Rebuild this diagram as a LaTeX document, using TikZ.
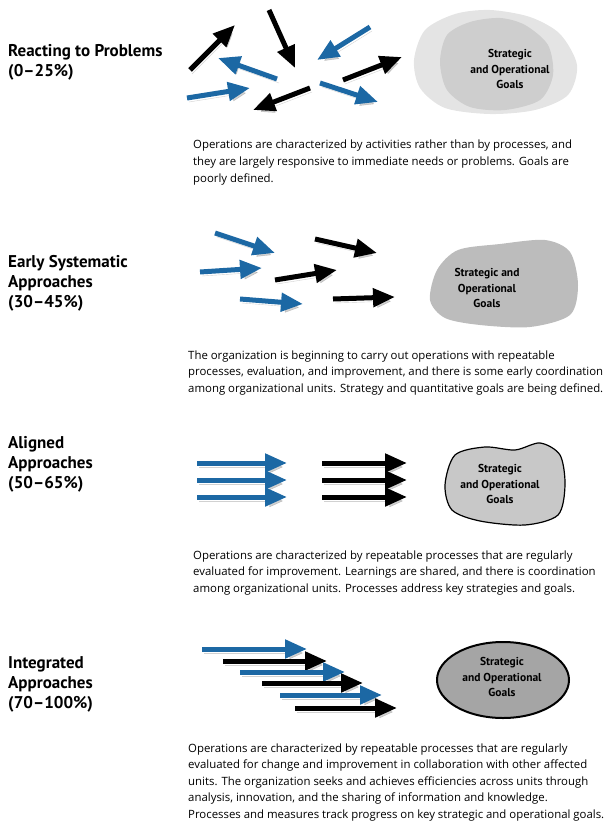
\documentclass[tikz,border=0pt]{standalone}
\usepackage{fontspec}
\setmainfont{PT Sans}
\newfontfamily\bodyfont{Open Sans}
\usetikzlibrary{arrows.meta}
\definecolor{flowblue}{RGB}{28,104,164}
\definecolor{cloudlight}{RGB}{228,228,228}
\definecolor{cloudmid}{RGB}{206,206,206}
\definecolor{blobgrey}{RGB}{188,188,188}
\definecolor{ringgrey}{RGB}{200,200,200}
\definecolor{ovalgrey}{RGB}{165,165,165}

\begin{document}
\begin{tikzpicture}[x=1pt, y=-1pt,
        heading/.style={anchor=base west, align=left, inner sep=0pt,
            font=\fontsize{17}{20}\selectfont\bfseries},
        body/.style={anchor=base west, align=left, inner sep=0pt,
            font=\bodyfont\fontsize{11.4}{16.5}\selectfont},
        goaltxt/.style={align=center, inner sep=0pt,
            font=\fontsize{11.5}{15.5}\selectfont\bfseries},
        flow/.style={line width=5pt, -{Triangle[length=22pt,width=18pt]},
            preaction={draw=black, opacity=0.18,
                transform canvas={shift={(2pt,-4pt)}}}},
    ]
    \useasboundingbox (0,0) rectangle (611,824);

    % reacting to problems
    \node[heading] (reacting) at (8,77) {Reacting to Problems\\(0--25\%)};
    \draw[flow] (190,70) -- (235,25);
    \draw[flow] (269,10) -- (295,68);
    \draw[flow, flowblue] (370,27) -- (317,60);
    \draw[flow, flowblue] (277,79) -- (218,58);
    \draw[flow] (343,80) -- (402,57);
    \draw[flow, flowblue] (187,98) -- (250,88);
    \draw[flow] (310,88) -- (253,110);
    \draw[flow, flowblue] (320,83) -- (378,102);
    \fill[cloudlight] plot[smooth cycle] coordinates {(414,60) (425,30) (455,14) (490,10)
        (530,17) (560,34) (577,65) (568,95) (535,110) (490,114) (445,108) (420,88)};
    \fill[cloudmid] plot[smooth cycle] coordinates {(440,62) (447,35) (470,22) (500,18)
        (525,25) (548,45) (553,75) (540,100) (505,110) (470,107) (447,90)};
    \node[goaltxt] (goalsA) at (510,69) {Strategic\\and Operational\\Goals};
    \node[body] (reactingtxt) at (193,182) {Operations are characterized by activities rather than by processes, and\\
        they are largely responsive to immediate needs or problems. Goals are\\
        poorly defined.};

    % early systematic approaches
    \node[heading] (early) at (8,307) {Early Systematic\\Approaches\\(30--45\%)};
    \draw[flow, flowblue] (215,233) -- (275,253);
    \draw[flow, flowblue] (200,272) -- (262,268);
    \draw[flow, flowblue] (240,299) -- (303,304);
    \draw[flow] (315,239) -- (377,253);
    \draw[flow] (275,280) -- (337,270);
    \draw[flow] (333,299) -- (395,297);
    \fill[blobgrey] plot[smooth cycle] coordinates {(430,300) (437,270) (458,250) (500,244)
        (545,240) (570,252) (578,285) (570,315) (530,327) (480,325) (445,318)};
    \node[goaltxt] (goalsB) at (487,288) {Strategic and\\Operational\\Goals};
    \node[body] (earlytxt) at (188,392) {The organization is beginning to carry out operations with repeatable\\
        processes, evaluation, and improvement, and there is some early coordination\\
        among organizational units. Strategy and quantitative goals are being defined.};

    % aligned approaches
    \node[heading] (aligned) at (8,488) {Aligned\\Approaches\\(50--65\%)};
    \foreach \y in {463,480,497} {
        \draw[flow, flowblue] (197,\y) -- (287,\y);
        \draw[flow] (322,\y) -- (407,\y);
    }
    \filldraw[fill=ringgrey, draw=black, line width=1.2pt] plot[smooth cycle] coordinates {(445,485)
        (455,455) (485,447) (515,450) (540,443) (560,455) (565,485) (558,515) (525,525)
        (480,521) (452,510)};
    \node[goaltxt] (goalsC) at (500,484) {Strategic\\and Operational\\Goals};
    \node[body] (alignedtxt) at (193,592) {Operations are characterized by repeatable processes that are regularly\\
        evaluated for improvement. Learnings are shared, and there is coordination\\
        among organizational units. Processes address key strategies and goals.};

    % integrated approaches
    \node[heading] (integrated) at (8,708) {Integrated\\Approaches\\(70--100\%)};
    \draw[flow, flowblue] (202,649) -- (307,649);
    \draw[flow] (223,661) -- (327,661);
    \draw[flow, flowblue] (240,672) -- (345,672);
    \draw[flow] (262,683) -- (363,683);
    \draw[flow, flowblue] (280,695) -- (382,695);
    \draw[flow] (295,708) -- (397,708);
    \filldraw[fill=ovalgrey, draw=black, line width=2pt] (503,680) ellipse (66 and 38);
    \node[goaltxt] (goalsD) at (502,677) {Strategic\\and Operational\\Goals};
    \node[body] (integratedtxt) at (188,818) {Operations are characterized by repeatable processes that are regularly\\
        evaluated for change and improvement in collaboration with other affected\\
        units. The organization seeks and achieves efficiencies across units through\\
        analysis, innovation, and the sharing of information and knowledge.\\
        Processes and measures track progress on key strategic and operational goals.};
\end{tikzpicture}
\end{document}
